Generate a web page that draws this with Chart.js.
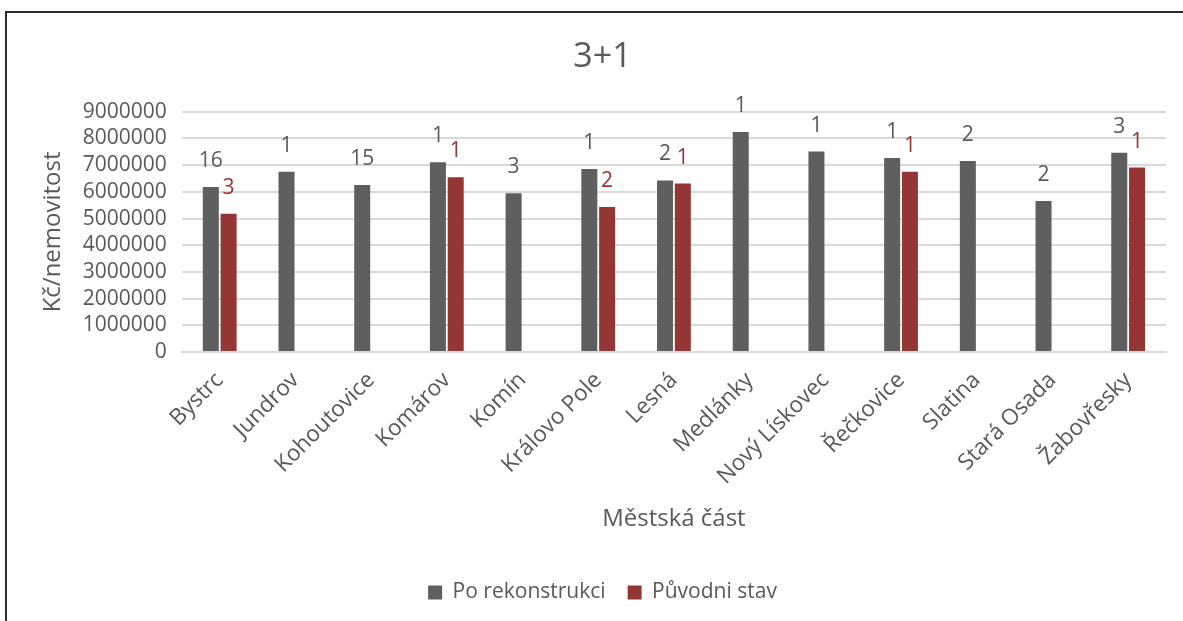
<!DOCTYPE html>
<html>
<head>
<meta charset="utf-8">
<script src="https://cdn.jsdelivr.net/npm/chart.js@4"></script>
<style>
    body { margin: 0; background: #fff; }
    #wrap { position: relative; width: 1183px; height: 621px; overflow: hidden; }
    #ram { position: absolute; left: 5px; top: 11px; width: 1200px; height: 700px;
           border-left: 2px solid #2b2b2b; border-top: 2px solid #2b2b2b; }
    canvas { position: absolute; left: 0; top: 0; }
</style>
</head>
<body>
<div id="wrap">
    <div id="ram"></div>
    <canvas id="graf" width="1183" height="621"></canvas>
</div>
<script>
const casti = ['Bystrc', 'Jundrov', 'Kohoutovice', 'Komárov', 'Komín', 'Královo Pole', 'Lesná',
    'Medlánky', 'Nový Lískovec', 'Řečkovice', 'Slatina', 'Stará Osada', 'Žabovřesky'];
const poRekonstrukci = [6180000, 6750000, 6260000, 7110000, 5950000, 6860000, 6430000,
    8240000, 7510000, 7270000, 7160000, 5660000, 7470000];
const puvodniStav = [5180000, null, null, 6550000, null, 5430000, 6310000,
    null, null, 6750000, null, null, 6910000];
const pocetPo = [16, 1, 15, 1, 3, 1, 2, 1, 1, 1, 2, 2, 3];
const pocetPuvodni = [3, null, null, 1, null, 2, 1, null, null, 1, null, null, 1];
const yTicks = [0, 1000000, 2000000, 3000000, 4000000, 5000000, 6000000, 7000000, 8000000, 9000000];

const pismo = '"Open Sans", "Liberation Sans", sans-serif';
const seda = '#5f5f5f';
const cervena = '#943634';
const text = '#595959';

// popisky s poctem nemovitosti nad sloupci
const popisky = {
    id: 'popisky',
    afterDatasetsDraw(chart) {
        const ctx = chart.ctx;
        const pocty = [pocetPo, pocetPuvodni];
        ctx.save();
        ctx.font = '21px ' + pismo;
        ctx.textAlign = 'center';
        ctx.textBaseline = 'middle';
        chart.data.datasets.forEach((ds, i) => {
            ctx.fillStyle = i === 0 ? text : cervena;
            chart.getDatasetMeta(i).data.forEach((bar, j) => {
                const n = pocty[i][j];
                if (n == null || ds.data[j] == null) return;
                ctx.fillText(String(n), bar.x, bar.y - 26);
            });
        });
        ctx.restore();
    }
};

let ctxGraf = document.getElementById('graf').getContext('2d');
let graf = new Chart(ctxGraf, {
    type: 'bar',
    data: {
        labels: casti,
        datasets: [{
            label: 'Po rekonstrukci',
            data: poRekonstrukci,
            backgroundColor: seda,
            categoryPercentage: 0.47,
            barPercentage: 0.9
        }, {
            label: 'Původni stav',
            data: puvodniStav,
            backgroundColor: cervena,
            categoryPercentage: 0.47,
            barPercentage: 0.9
        }]
    },
    options: {
        responsive: false,
        animation: false,
        layout: { padding: { left: 39, right: 17, top: 12, bottom: 8 } },
        plugins: {
            title: {
                display: true,
                text: '3+1',
                color: text,
                font: { family: pismo, size: 34, weight: 'normal' },
                padding: { top: 25, bottom: 34 }
            },
            legend: {
                position: 'bottom',
                labels: {
                    color: text,
                    font: { family: pismo, size: 21 },
                    boxWidth: 14,
                    boxHeight: 14,
                    padding: 22
                }
            },
            tooltip: { enabled: false }
        },
        scales: {
            x: {
                afterFit(scale) {
                    scale.height = 208;
                },
                grid: { display: false },
                border: { color: '#d9d9d9', width: 2 },
                ticks: {
                    color: text,
                    font: { family: pismo, size: 22.5 },
                    maxRotation: 45,
                    minRotation: 45,
                    padding: 7
                },
                title: {
                    display: true,
                    text: 'Městská část',
                    color: text,
                    font: { family: pismo, size: 24 },
                    padding: { top: 8, bottom: 26 }
                }
            },
            y: {
                min: 0,
                max: 9000000,
                afterBuildTicks(scale) {
                    scale.ticks = yTicks.map(v => ({ value: v }));
                },
                grid: { color: '#d9d9d9', lineWidth: 2, drawTicks: false },
                border: { display: false },
                ticks: {
                    color: text,
                    font: { family: pismo, size: 21 },
                    padding: 15,
                    autoSkip: false,
                    callback: v => String(v)
                },
                title: {
                    display: true,
                    text: 'Kč/nemovitost',
                    color: text,
                    font: { family: pismo, size: 24 },
                    padding: { top: 0, bottom: 0 }
                }
            }
        }
    },
    plugins: [popisky]
});
</script>
</body>
</html>
